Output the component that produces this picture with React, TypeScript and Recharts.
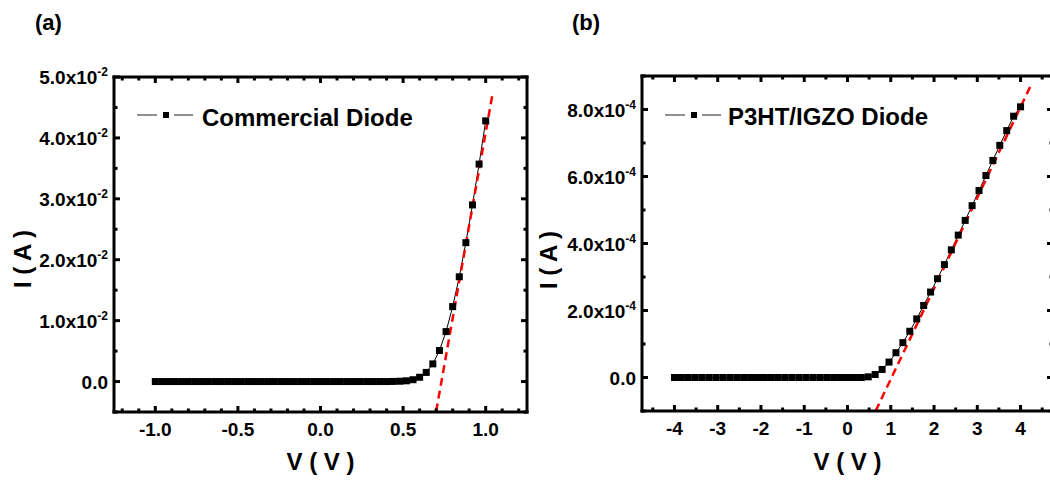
import React from 'react';
import { LineChart, Line, XAxis, YAxis } from 'recharts';

// (a) commercial diode
const voltsA = [
  -1.0, -0.96, -0.92, -0.88, -0.84, -0.8, -0.76, -0.72, -0.68, -0.64, -0.6, -0.56, -0.52,
  -0.48, -0.44, -0.4, -0.36, -0.32, -0.28, -0.24, -0.2, -0.16, -0.12, -0.08, -0.04, 0.0,
  0.04, 0.08, 0.12, 0.16, 0.2, 0.24, 0.28, 0.32, 0.36, 0.4, 0.44, 0.48, 0.52, 0.56, 0.6,
  0.64, 0.68, 0.72, 0.76, 0.8, 0.84, 0.88, 0.92, 0.96, 1.0,
];
const currentA = [
  0, 0, 0, 0, 0, 0, 0, 0, 0, 0, 0, 0, 0,
  0, 0, 0, 0, 0, 0, 0, 0, 0, 0, 0, 0, 0,
  0, 0, 0, 0, 0, 0, 0, 0, 0, 0, 0.00002, 0.00005, 0.00012, 0.0003, 0.0007,
  0.0015, 0.0029, 0.0051, 0.0082, 0.0123, 0.0172, 0.0228, 0.029, 0.0357, 0.0428,
];
const fitVoltsA = [0.7, 1.04];
const fitCurrentA = [-0.0049, 0.047];

// (b) P3HT/IGZO diode
const voltsB = [
  -4.0, -3.84, -3.68, -3.52, -3.36, -3.2, -3.04, -2.88, -2.72, -2.56, -2.4, -2.24, -2.08,
  -1.92, -1.76, -1.6, -1.44, -1.28, -1.12, -0.96, -0.8, -0.64, -0.48, -0.32, -0.16, 0.0,
  0.16, 0.32, 0.48, 0.64, 0.8, 0.96, 1.12, 1.28, 1.44, 1.6, 1.76, 1.92, 2.08, 2.24, 2.4,
  2.56, 2.72, 2.88, 3.04, 3.2, 3.36, 3.52, 3.68, 3.84, 4.0,
];
const currentB = [
  0, 0, 0, 0, 0, 0, 0, 0, 0, 0, 0, 0, 0,
  0, 0, 0, 0, 0, 0, 0, 0, 0, 0, 0, 0, 0,
  0, 0, 0.000002, 0.000009, 0.000024, 0.000046, 0.000074, 0.000104, 0.000138, 0.000175,
  0.000215, 0.000255, 0.000295, 0.000337, 0.000381, 0.000425, 0.000469, 0.000513, 0.000558,
  0.000603, 0.000648, 0.000693, 0.000737, 0.00078, 0.000808,
];
const fitVoltsB = [0.65, 4.23];
const fitCurrentB = [-0.0001, 0.00087];

// ticks
const xMajorA = [-1.0, -0.5, 0, 0.5, 1.0];
const xAllA = [-1.2, -1.1, -1.0, -0.9, -0.8, -0.7, -0.6, -0.5, -0.4, -0.3, -0.2, -0.1, 0,
  0.1, 0.2, 0.3, 0.4, 0.5, 0.6, 0.7, 0.8, 0.9, 1.0, 1.1, 1.2];
const yMajorA = [0, 0.01, 0.02, 0.03, 0.04, 0.05];
const yAllA = [-0.005, 0, 0.005, 0.01, 0.015, 0.02, 0.025, 0.03, 0.035, 0.04, 0.045, 0.05];
const xMajorB = [-4, -3, -2, -1, 0, 1, 2, 3, 4];
const xAllB = [-4.5, -4, -3.5, -3, -2.5, -2, -1.5, -1, -0.5, 0, 0.5, 1, 1.5, 2, 2.5, 3, 3.5, 4, 4.5];
const yMajorB = [0, 0.0002, 0.0004, 0.0006, 0.0008];
const yAllB = [-0.0001, 0, 0.0001, 0.0002, 0.0003, 0.0004, 0.0005, 0.0006, 0.0007, 0.0008, 0.0009];

const FONT = "'Liberation Sans', Arial, sans-serif";

type Side = 'bottom' | 'top' | 'left' | 'right';

const isMajor = (v: number, majors: number[]) => majors.some((m) => Math.abs(m - v) < 1e-12);

const makeTick = (side: Side, majors: number[], fmt?: (v: number) => React.ReactNode) => (props: any) => {
  const { x, y, payload } = props;
  const v = payload.value as number;
  const major = isMajor(v, majors);
  const len = major ? 6 : 3.5;
  let x2 = x;
  let y2 = y;
  if (side === 'bottom') y2 = y - len;
  if (side === 'top') y2 = y + len;
  if (side === 'left') x2 = x + len;
  if (side === 'right') x2 = x - len;
  let label: React.ReactNode = null;
  if (major && fmt) {
    if (side === 'bottom') {
      label = (
        <text x={x} y={y + 24} textAnchor="middle" fontSize={19} fontWeight="bold" fontFamily={FONT} fill="#000">
          {fmt(v)}
        </text>
      );
    } else if (side === 'left') {
      label = (
        <text x={x - 6} y={y + 7} textAnchor="end" fontSize={19} fontWeight="bold" fontFamily={FONT} fill="#000">
          {fmt(v)}
        </text>
      );
    }
  }
  return (
    <g>
      <line x1={x} y1={y} x2={x2} y2={y2} stroke="#000" strokeWidth={3} />
      {label}
    </g>
  );
};

const sciLabel = (scale: number, exp: string) => (v: number) => {
  if (v === 0) return '0.0';
  return (
    <>
      {(v / scale).toFixed(1)}x10
      <tspan dy={-8} fontSize={12}>{exp}</tspan>
    </>
  );
};

const axisStyle = { stroke: '#000', strokeWidth: 3, strokeLinecap: 'square' as const };

const Square = (p: any) => {
  if (p.cx == null || p.cy == null) return <g key={`s-${p.index}`} />;
  return <rect key={`s-${p.index}`} x={p.cx - 3.5} y={p.cy - 3.5} width={7} height={7} fill="#000" />;
};

interface PanelProps {
  volts: number[];
  current: number[];
  fitVolts: number[];
  fitCurrent: number[];
  xDomain: [number, number];
  yDomain: [number, number];
  xAll: number[];
  xMajor: number[];
  yAll: number[];
  yMajor: number[];
  fmtX: (v: number) => React.ReactNode;
  fmtY: (v: number) => React.ReactNode;
  width: number;
  margin: { top: number; right: number; bottom: number; left: number };
  yAxisWidth: number;
  xAxisHeight: number;
}

const Panel: React.FC<PanelProps> = (p) => {
  const data = p.volts.map((v, k) => ({ v, i: p.current[k] }));
  const fit = p.fitVolts.map((v, k) => ({ v, i: p.fitCurrent[k] }));
  const common = { type: 'number' as const, allowDataOverflow: true, interval: 0 as const, tickSize: 0, tickMargin: 0, tickLine: false, axisLine: axisStyle };
  return (
    <LineChart width={p.width} height={482} data={data} margin={p.margin}>
      <XAxis xAxisId="b" orientation="bottom" dataKey="v" domain={p.xDomain} ticks={p.xAll} height={p.xAxisHeight}
        tick={makeTick('bottom', p.xMajor, p.fmtX)} {...common} />
      <XAxis xAxisId="t" orientation="top" dataKey="v" domain={p.xDomain} ticks={p.xAll} height={1}
        tick={makeTick('top', p.xMajor)} {...common} />
      <YAxis yAxisId="l" orientation="left" domain={p.yDomain} ticks={p.yAll} width={p.yAxisWidth}
        tick={makeTick('left', p.yMajor, p.fmtY)} {...common} />
      <YAxis yAxisId="r" orientation="right" domain={p.yDomain} ticks={p.yAll} width={1}
        tick={makeTick('right', p.yMajor)} {...common} />
      <Line xAxisId="b" yAxisId="l" dataKey="i" stroke="#000" strokeWidth={1} dot={Square} activeDot={false}
        isAnimationActive={false} />
      <Line xAxisId="b" yAxisId="l" data={fit} dataKey="i" stroke="#ff0000" strokeWidth={2.5} strokeDasharray="8 5"
        dot={false} activeDot={false} isAnimationActive={false} />
    </LineChart>
  );
};

const titleStyle = { fontFamily: FONT, fontWeight: 'bold' as const, fontSize: 24, fill: '#000' };

const LegendMark = ({ x, y }: { x: number; y: number }) => (
  <g>
    <line x1={x} y1={y} x2={x + 20} y2={y} stroke="#222" strokeWidth={1} />
    <rect x={x + 26} y={y - 3} width={6} height={6} fill="#000" />
    <line x1={x + 37} y1={y} x2={x + 56} y2={y} stroke="#222" strokeWidth={1} />
  </g>
);

export default function App() {
  return (
    <div style={{ position: 'absolute', left: 0, top: 0, width: 1050, height: 482, overflow: 'hidden', background: '#fff', fontFamily: FONT }}>
      <div style={{ position: 'absolute', left: 0, top: 0 }}>
        <Panel volts={voltsA} current={currentA} fitVolts={fitVoltsA} fitCurrent={fitCurrentA}
          xDomain={[-1.25, 1.25]} yDomain={[-0.005, 0.05]} xAll={xAllA} xMajor={xMajorA} yAll={yAllA} yMajor={yMajorA}
          fmtX={(v) => v.toFixed(1)} fmtY={sciLabel(0.01, '-2')}
          width={540} margin={{ top: 76, right: 12, bottom: 0, left: 0 }} yAxisWidth={114} xAxisHeight={70} />
      </div>
      <div style={{ position: 'absolute', left: 540, top: 0 }}>
        <Panel volts={voltsB} current={currentB} fitVolts={fitVoltsB} fitCurrent={fitCurrentB}
          xDomain={[-4.75, 4.75]} yDomain={[-0.0001, 0.0009]} xAll={xAllB} xMajor={xMajorB} yAll={yAllB} yMajor={yMajorB}
          fmtX={(v) => String(v)} fmtY={sciLabel(0.0001, '-4')}
          width={530} margin={{ top: 75, right: 16, bottom: 0, left: 0 }} yAxisWidth={102} xAxisHeight={71} />
      </div>
      <svg width={1050} height={482} style={{ position: 'absolute', left: 0, top: 0, pointerEvents: 'none' }}>
        <text x={35} y={30} fontFamily={FONT} fontWeight="bold" fontSize={22}>(a)</text>
        <text x={572} y={30} fontFamily={FONT} fontWeight="bold" fontSize={22}>(b)</text>

        <text x={320.5} y={470} textAnchor="middle" {...titleStyle}>V ( V )</text>
        <text x={847.5} y={470} textAnchor="middle" {...titleStyle}>V ( V )</text>
        <text transform="translate(31,259) rotate(-90)" textAnchor="middle" {...titleStyle}>I ( A )</text>
        <text transform="translate(557,260) rotate(-90)" textAnchor="middle" {...titleStyle}>I ( A )</text>

        <LegendMark x={137} y={115} />
        <text x={202} y={126} {...titleStyle}>Commercial Diode</text>
        <LegendMark x={665} y={115} />
        <text x={728} y={125} {...titleStyle}>P3HT/IGZO Diode</text>
      </svg>
    </div>
  );
}
